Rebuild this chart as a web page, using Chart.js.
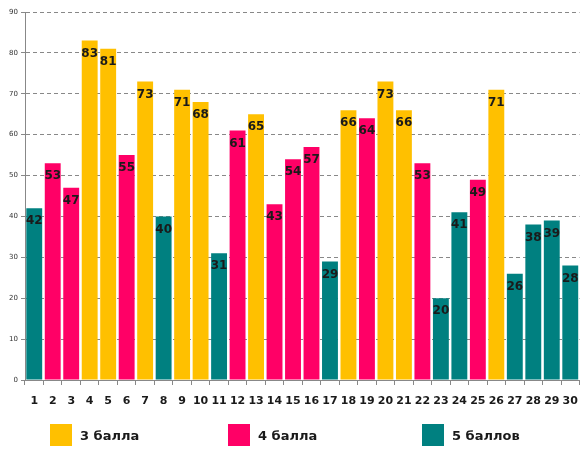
<!DOCTYPE html>
<html lang="ru">
<head>
<meta charset="UTF-8">
<title>Баллы</title>
<script src="https://cdn.jsdelivr.net/npm/chart.js"></script>
<style>
    body { margin: 0; background: #fff; font-family: "DejaVu Sans", Arial, sans-serif; }
    #wrap { position: relative; width: 588px; height: 453px; }
    .leg { position: absolute; top: 424px; display: flex; align-items: center; font-weight: bold; font-size: 13px; color: #1a1a1a; }
    .leg span.box { display: inline-block; width: 22px; height: 22px; margin-right: 8px; }
</style>
</head>
<body>
<div id="wrap">
    <canvas id="myChart" width="588" height="453"></canvas>
    <div class="leg" style="left:50px"><span class="box" style="background:#FFC000"></span>3 балла</div>
    <div class="leg" style="left:228px"><span class="box" style="background:#FF0066"></span>4 балла</div>
    <div class="leg" style="left:422px"><span class="box" style="background:#008080"></span>5 баллов</div>
</div>
<script>
    const labels = ['1','2','3','4','5','6','7','8','9','10','11','12','13','14','15','16','17','18','19','20','21','22','23','24','25','26','27','28','29','30'];
    const values = [42, 53, 47, 83, 81, 55, 73, 40, 71, 68, 31, 61, 65, 43, 54, 57, 29, 66, 64, 73, 66, 53, 20, 41, 49, 71, 26, 38, 39, 28];
    // оценка для каждого номера: 3, 4 или 5
    const grades = [5, 4, 4, 3, 3, 4, 3, 5, 3, 3, 5, 4, 3, 4, 4, 4, 5, 3, 4, 3, 3, 4, 5, 5, 4, 3, 5, 5, 5, 5];
    const gradeNames = {3: '3 балла', 4: '4 балла', 5: '5 баллов'};
    const gradeColors = {3: '#FFC000', 4: '#FF0066', 5: '#008080'};

    function seriesFor(g) {
        return values.map((v, i) => grades[i] === g ? v : null);
    }

    const valueLabels = {
        id: 'valueLabels',
        afterDatasetsDraw(chart) {
            const c = chart.ctx;
            c.save();
            c.font = 'bold 12px "DejaVu Sans", Arial';
            c.fillStyle = '#1a1a1a';
            c.textAlign = 'center';
            c.textBaseline = 'middle';
            chart.data.datasets.forEach((ds, di) => {
                chart.getDatasetMeta(di).data.forEach((bar, i) => {
                    if (ds.data[i] == null) return;
                    c.fillText(ds.data[i], bar.x, bar.y + 13);
                });
            });
            c.restore();
        }
    };

    const ctx = document.getElementById('myChart').getContext('2d');
    const myChart = new Chart(ctx, {
        type: 'bar',
        data: {
            labels: labels,
            datasets: [3, 4, 5].map(g => ({
                label: gradeNames[g],
                data: seriesFor(g),
                backgroundColor: gradeColors[g],
                barPercentage: 0.86,
                categoryPercentage: 1
            }))
        },
        options: {
            responsive: false,
            animation: false,
            layout: { padding: { top: 12, right: 5, bottom: 0, left: 0 } },
            plugins: {
                legend: { display: false },
                tooltip: { enabled: false }
            },
            scales: {
                x: {
                    stacked: true,
                    afterFit(axis) { axis.height = 73; },
                    grid: {
                        drawOnChartArea: false,
                        drawTicks: true,
                        tickLength: 5,
                        color: '#888'
                    },
                    border: { color: '#888', width: 1 },
                    ticks: {
                        padding: 10,
                        color: '#1a1a1a',
                        font: { family: '"DejaVu Sans", Arial', size: 11, weight: 'bold' },
                        maxRotation: 0,
                        autoSkip: false
                    }
                },
                y: {
                    stacked: true,
                    min: 0,
                    max: 90,
                    afterFit(axis) { axis.width = 25; },
                    grid: {
                        color: '#888',
                        tickLength: 4
                    },
                    border: { color: '#888', width: 1, dash: [4, 3] },
                    ticks: {
                        stepSize: 10,
                        padding: 3,
                        color: '#333',
                        font: { family: '"DejaVu Sans", Arial', size: 7 }
                    }
                }
            }
        },
        plugins: [valueLabels]
    });
</script>
</body>
</html>
